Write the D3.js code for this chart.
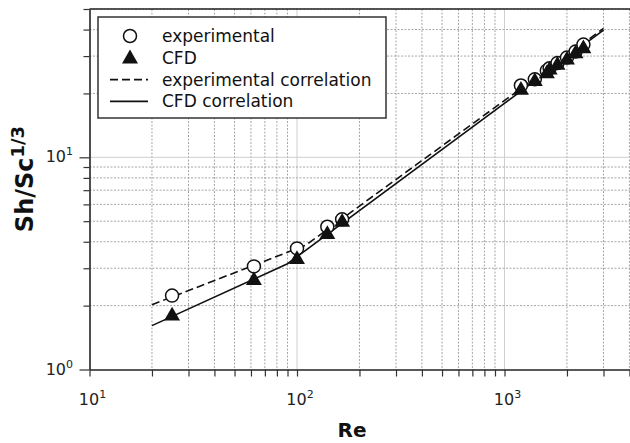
<!DOCTYPE html>
<html>
<head>
<meta charset="utf-8">
<script src="https://cdn.jsdelivr.net/npm/d3@7"></script>
<style>
  html, body { margin: 0; padding: 0; background: #fff; }
  svg { display: block; font-family: "DejaVu Sans", Verdana, sans-serif; }
</style>
</head>
<body>
<svg id="chart" width="630" height="443"></svg>
<script>
// Measured points: Reynolds number vs Sh/Sc^(1/3)
const reynolds = [25, 62, 100, 140, 165, 1200, 1400, 1600, 1650, 1800, 2000, 2200, 2400];
const experimental = [2.23, 3.06, 3.72, 4.71, 5.1, 21.8, 23.3, 25.6, 26.3, 27.8, 29.5, 31.5, 34.0];
const cfd = [1.79, 2.63, 3.30, 4.33, 4.95, 20.7, 22.8, 24.8, 25.8, 27.2, 28.8, 30.8, 32.5];

// Correlation lines (vertices of the piecewise power laws)
const expCorrRe = [20, 110, 3000];
const expCorrVal = [2.02, 3.85, 40.5];
const cfdCorrRe = [20, 90, 3000];
const cfdCorrVal = [1.61, 3.15, 39.8];

const xDecades = [1, 2, 3, 4];
const yDecades = [0, 1];
const legendLabels = ["experimental", "CFD", "experimental correlation", "CFD correlation"];

const svg = d3.select("#chart");
const plotLeft = 89.5, plotBottom = 369.5, plotTop = 9;
const x = d3.scaleLog().domain([10, 10000]).range([plotLeft, plotLeft + 3 * 207.5]);
const y = d3.scaleLog().domain([1, 50]).range([plotBottom, plotTop]);
const plotRight = x.range()[1];

// every 1..9 multiple across the visible range
const xTicks = [];
[10, 100, 1000].forEach(d => { for (let k = 1; k <= 9; k++) xTicks.push(d * k); });
xTicks.push(10000);
const yTicks = [];
[1, 10].forEach(d => { for (let k = 1; k <= 9; k++) if (d * k <= 50) yTicks.push(d * k); });
const isMajor = v => Math.abs(Math.log10(v) - Math.round(Math.log10(v))) < 1e-9;

svg.append("defs").append("clipPath").attr("id", "plot")
  .append("rect").attr("x", plotLeft).attr("y", plotTop)
  .attr("width", plotRight - plotLeft).attr("height", plotBottom - plotTop);

// grid
const grid = svg.append("g");
grid.selectAll(".gx").data(xTicks.filter(v => v > 10)).join("line")
  .attr("x1", d => x(d)).attr("x2", d => x(d)).attr("y1", plotTop).attr("y2", plotBottom)
  .attr("stroke", d => isMajor(d) ? "#cfcfcf" : "#a6a6a6")
  .attr("stroke-width", 1)
  .attr("stroke-dasharray", d => isMajor(d) ? null : "2,1.5");
grid.selectAll(".gy").data(yTicks.filter(v => v > 1)).join("line")
  .attr("x1", plotLeft).attr("x2", plotRight).attr("y1", d => y(d)).attr("y2", d => y(d))
  .attr("stroke", d => isMajor(d) ? "#cfcfcf" : "#a6a6a6")
  .attr("stroke-width", 1)
  .attr("stroke-dasharray", d => isMajor(d) ? null : "2,1.5");

// axes
const xAxis = svg.append("g").attr("transform", `translate(0,${plotBottom})`)
  .call(d3.axisBottom(x).tickValues(xTicks).tickSize(7).tickSizeOuter(0).tickFormat(""));
const yAxis = svg.append("g").attr("transform", `translate(${plotLeft},0)`)
  .call(d3.axisLeft(y).tickValues(yTicks).tickSize(6).tickSizeOuter(0).tickFormat(""));
[xAxis, yAxis].forEach(a => {
  a.select(".domain").attr("stroke", "#222").attr("stroke-width", 1.6);
  a.selectAll(".tick line").attr("stroke", "#333").attr("stroke-width", 1.2);
});
yAxis.selectAll(".tick line").attr("x2", d => isMajor(d) ? -10 : -6);
// top frame
svg.append("line").attr("x1", plotLeft).attr("x2", plotRight).attr("y1", plotTop).attr("y2", plotTop)
  .attr("stroke", "#222").attr("stroke-width", 1.6);

// power-of-ten tick labels
function powLabel(g, base, exp) {
  g.append("tspan").text(base);
  g.append("tspan").attr("dy", -7).attr("font-size", 11).text(exp);
}
xDecades.forEach(e => {
  if (x(Math.pow(10, e)) > 630) return;
  const t = svg.append("text").attr("x", x(Math.pow(10, e)) + 3).attr("y", 405)
    .attr("text-anchor", "middle").attr("font-size", 16).attr("fill", "#222");
  powLabel(t, "10", e);
});
yDecades.forEach(e => {
  const t = svg.append("text").attr("x", 73).attr("y", y(Math.pow(10, e)) + 5)
    .attr("text-anchor", "end").attr("font-size", 16).attr("fill", "#222");
  powLabel(t, "10", e);
});

// axis titles
svg.append("text").attr("x", 352).attr("y", 437).attr("text-anchor", "middle")
  .attr("font-size", 20).attr("font-weight", "bold").attr("fill", "#111").text("Re");
const yt = svg.append("text").attr("transform", "translate(33,179) rotate(-90)")
  .attr("text-anchor", "middle").attr("font-size", 24).attr("font-weight", "bold").attr("fill", "#111");
yt.append("tspan").text("Sh/Sc");
yt.append("tspan").attr("dy", -9).attr("font-size", 18).text("1/3");

// data layer
const plot = svg.append("g").attr("clip-path", "url(#plot)");
const line = d3.line().x(d => x(d[0])).y(d => y(d[1]));
plot.append("path").datum(d3.zip(expCorrRe, expCorrVal)).attr("d", line)
  .attr("fill", "none").attr("stroke", "#111").attr("stroke-width", 1.6).attr("stroke-dasharray", "8,4");
plot.append("path").datum(d3.zip(cfdCorrRe, cfdCorrVal)).attr("d", line)
  .attr("fill", "none").attr("stroke", "#111").attr("stroke-width", 1.6);

plot.selectAll(".exp").data(d3.zip(reynolds, experimental)).join("circle")
  .attr("cx", d => x(d[0])).attr("cy", d => y(d[1])).attr("r", 6.5)
  .attr("fill", "#fff").attr("stroke", "#111").attr("stroke-width", 1.5);
const tri = d3.symbol().type(d3.symbolTriangle).size(110);
plot.selectAll(".cfd").data(d3.zip(reynolds, cfd)).join("path")
  .attr("d", tri).attr("transform", d => `translate(${x(d[0])},${y(d[1])})`)
  .attr("fill", "#111");

// legend
const lg = svg.append("g");
lg.append("rect").attr("x", 98).attr("y", 17).attr("width", 288).attr("height", 101)
  .attr("fill", "#fff").attr("stroke", "#333").attr("stroke-width", 1.5);
const rowY = i => 36 + i * 21.8;
lg.append("circle").attr("cx", 130).attr("cy", rowY(0)).attr("r", 6.5)
  .attr("fill", "#fff").attr("stroke", "#111").attr("stroke-width", 1.5);
lg.append("path").attr("d", tri).attr("transform", `translate(130,${rowY(1) + 1})`).attr("fill", "#111");
lg.append("line").attr("x1", 110).attr("x2", 148).attr("y1", rowY(2)).attr("y2", rowY(2))
  .attr("stroke", "#111").attr("stroke-width", 1.6).attr("stroke-dasharray", "8,4");
lg.append("line").attr("x1", 110).attr("x2", 148).attr("y1", rowY(3)).attr("y2", rowY(3))
  .attr("stroke", "#111").attr("stroke-width", 1.6);
lg.selectAll(".lt").data(legendLabels).join("text")
  .attr("x", 162).attr("y", (d, i) => rowY(i) + 6).attr("font-size", 17).attr("fill", "#111")
  .text(d => d);
</script>
</body>
</html>
